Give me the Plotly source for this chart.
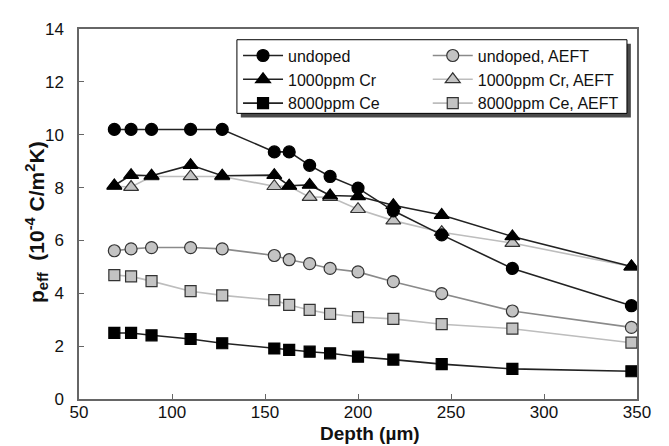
import plotly.graph_objects as go

depth = [69, 78, 89, 110, 127, 155, 163, 174, 185, 200, 219, 245, 283, 347]

undoped = [10.2, 10.2, 10.2, 10.2, 10.2, 9.35, 9.35, 8.84, 8.42, 7.98, 7.12, 6.21, 4.94, 3.53]
undoped_aeft = [5.61, 5.68, 5.73, 5.73, 5.68, 5.43, 5.27, 5.12, 4.94, 4.81, 4.44, 3.99, 3.33, 2.71]
cr = [8.08, 8.47, 8.45, 8.85, 8.45, 8.47, 8.07, 8.1, 7.7, 7.67, 7.33, 6.96, 6.15, 5.01]
cr_aeft = [8.05, 8.02, 8.42, 8.42, 8.42, 8.05, 8.05, 7.64, 7.64, 7.18, 6.75, 6.31, 5.9, 5.01]
ce = [2.5, 2.5, 2.41, 2.27, 2.11, 1.91, 1.86, 1.79, 1.73, 1.6, 1.49, 1.32, 1.14, 1.05]
ce_aeft = [4.69, 4.64, 4.46, 4.08, 3.92, 3.74, 3.56, 3.37, 3.22, 3.1, 3.03, 2.83, 2.66, 2.13]

names = ["undoped", "1000ppm Cr", "8000ppm Ce",
         "undoped, AEFT", "1000ppm Cr, AEFT", "8000ppm Ce, AEFT"]

x_ticks = [50, 100, 150, 200, 250, 300, 350]
y_ticks = [0, 2, 4, 6, 8, 10, 12, 14]

FONT = "Liberation Sans, Arial, sans-serif"
GREY_FILL = "#c3c3c3"
EDGE = "#333333"

fig = go.Figure()

series = [
    (cr_aeft, names[4], "triangle-up", "#bdbdbd", GREY_FILL, "legend2", "g5"),
    (ce_aeft, names[5], "square", "#bdbdbd", GREY_FILL, "legend2", "g6"),
    (undoped_aeft, names[3], "circle", "#8a8a8a", GREY_FILL, "legend2", "g4"),
    (ce, names[2], "square", "#222222", "#000000", "legend", "g3"),
    (cr, names[1], "triangle-up", "#222222", "#000000", "legend", "g2"),
    (undoped, names[0], "circle", "#222222", "#000000", "legend", "g1"),
]
order = {names[0]: 1, names[1]: 2, names[2]: 3, names[3]: 1, names[4]: 2, names[5]: 3}

for vals, nm, sym, lc, fc, lg, grp in series:
    size = 12
    if sym == "square":
        size = 11
    if sym == "triangle-up":
        size = 13
    fig.add_trace(go.Scatter(
        x=depth, y=vals, name=nm, mode="lines+markers",
        line=dict(color=lc, width=1.6),
        marker=dict(symbol=sym, size=size, color=fc,
                    line=dict(color=EDGE if fc != "#000000" else "#000000", width=1.2)),
        legend=lg, legendgroup=grp, legendrank=order[nm],
    ))

# legend frame with shadow (paper coords)
fig.add_shape(type="rect", xref="paper", yref="paper",
              x0=0.290, x1=0.989, y0=0.761, y1=0.960,
              fillcolor="#4a4a4a", line=dict(width=0), layer="above")
fig.add_shape(type="rect", xref="paper", yref="paper",
              x0=0.283, x1=0.982, y0=0.772, y1=0.971,
              fillcolor="white", line=dict(color="#000000", width=1), layer="above")

legend_common = dict(
    bgcolor="rgba(0,0,0,0)", borderwidth=0,
    font=dict(family=FONT, size=16, color="#111111"),
    tracegroupgap=0, itemwidth=40, xanchor="left", yanchor="top",
    orientation="v",
)

# The page body has an 8px default margin, so the figure is drawn 8px smaller
# and offset so that the plot area lands where the reference has it.
fig.update_layout(
    width=661, height=438,
    margin=dict(l=71, r=32, t=14, b=47),
    paper_bgcolor="white", plot_bgcolor="white",
    font=dict(family=FONT, size=17, color="#111111"),
    showlegend=True,
    legend=dict(x=0.285, y=0.974, **legend_common),
    legend2=dict(x=0.625, y=0.974, **legend_common),
    xaxis=dict(
        range=[50, 350], tickvals=x_ticks, ticktext=[str(v) for v in x_ticks],
        ticks="inside", ticklen=5, tickcolor="#666666", ticklabelstandoff=-3,
        showline=True, linecolor="#666666", linewidth=1.5, mirror=True,
        showgrid=False, zeroline=False,
        tickfont=dict(family=FONT, size=17, color="#111111"),
    ),
    yaxis=dict(
        range=[0, 14], tickvals=y_ticks, ticktext=[str(v) for v in y_ticks],
        ticks="inside", ticklen=5, tickcolor="#666666", ticklabelstandoff=10,
        showline=True, linecolor="#666666", linewidth=1.5, mirror=True,
        showgrid=False, zeroline=False,
        tickfont=dict(family=FONT, size=17, color="#111111"),
    ),
    annotations=[
        dict(text="<b>Depth (µm)</b>", xref="paper", yref="paper",
             x=0.522, y=-0.093, xanchor="center", yanchor="middle", showarrow=False,
             font=dict(family=FONT, size=19, color="#111111")),
        dict(text="<b>p<sub>eff</sub>  (10<sup>-4</sup> C/m<sup>2</sup>K)</b>",
             xref="paper", yref="paper", x=-0.076, y=0.477, textangle=-90,
             xanchor="center", yanchor="middle", showarrow=False,
             font=dict(family=FONT, size=21, color="#111111")),
    ],
)

fig.write_html("out.html")
